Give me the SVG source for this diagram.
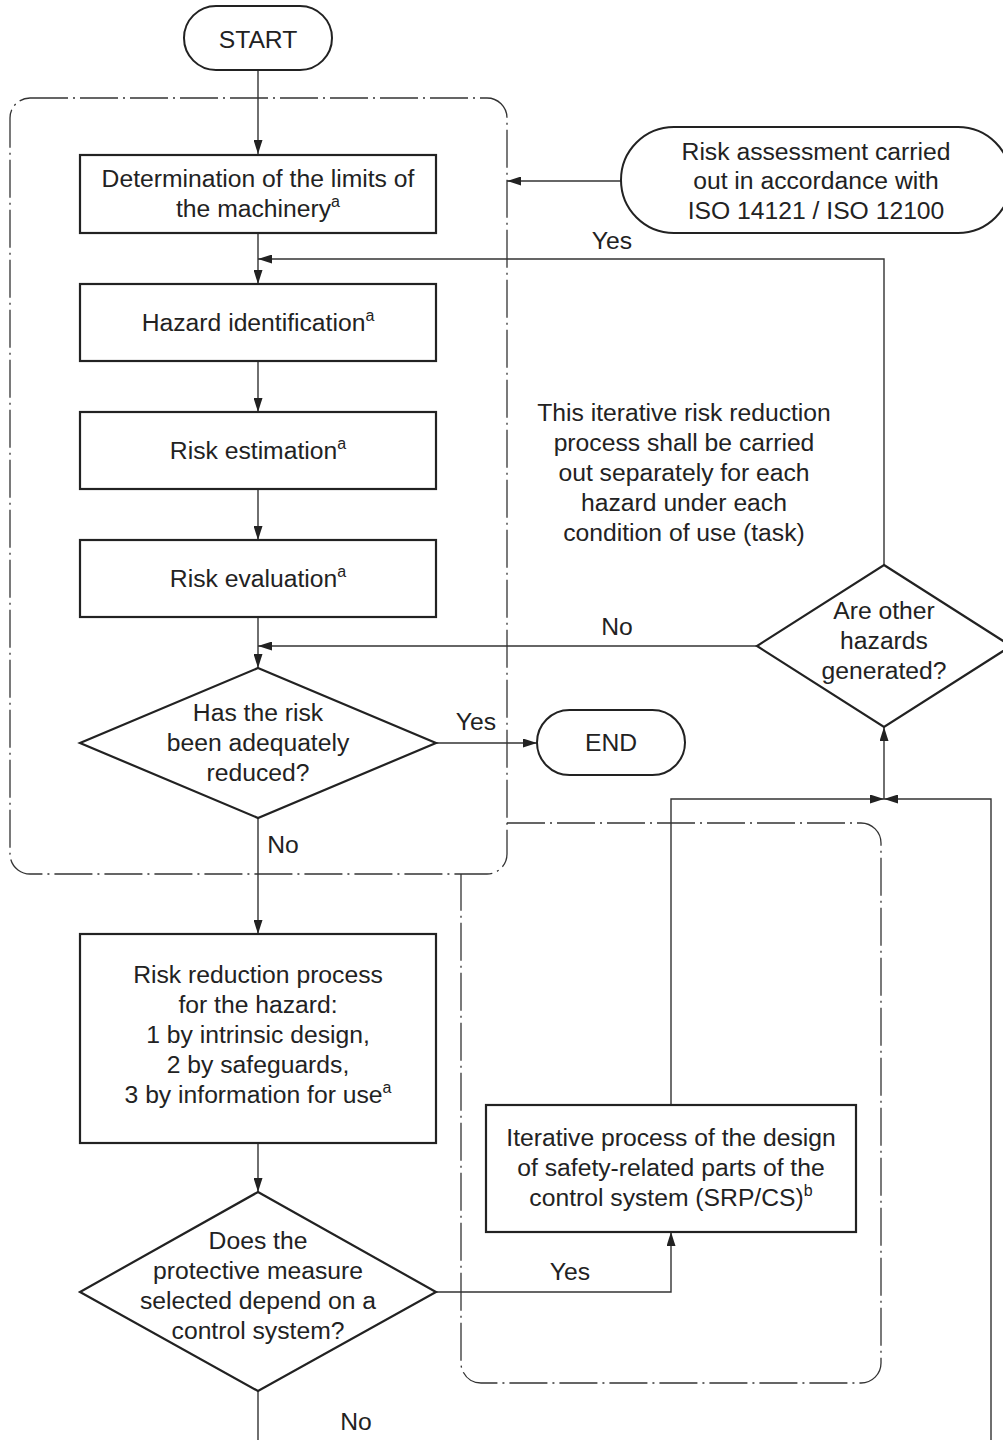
<svg xmlns="http://www.w3.org/2000/svg" width="1003" height="1440" viewBox="0 0 1003 1440">
<defs>
<marker id="arr" markerUnits="userSpaceOnUse" markerWidth="15" markerHeight="9" refX="14" refY="4.5" orient="auto">
<path d="M0,0 L14,4.5 L0,9 z" fill="#222"/>
</marker>
<style>
.t{font-family:"Liberation Sans",Arial,Helvetica,sans-serif;font-size:24.7px;fill:#222;text-anchor:middle}
.sup{font-size:16px}
.box{fill:#fff;stroke:#222;stroke-width:2.2}
.term{fill:#fff;stroke:#222;stroke-width:2}
.c{fill:none;stroke:#333;stroke-width:1.4}
.ca{fill:none;stroke:#333;stroke-width:1.4;marker-end:url(#arr)}
.zone{fill:none;stroke:#333;stroke-width:1.3;stroke-dasharray:38 5 2 5}
</style>
</defs>
<rect width="1003" height="1440" fill="#fff"/>

<g id="zones">
<rect class="zone" x="10" y="98" width="497" height="776" rx="20"/>
<path class="zone" d="M507,823 H861 A20,20 0 0 1 881,843 V1363 A20,20 0 0 1 861,1383 H481 A20,20 0 0 1 461,1363 V874"/>
</g>

<g id="connectors">
<line class="ca" x1="258" y1="70" x2="258" y2="154"/>
<line class="ca" x1="258" y1="233" x2="258" y2="284"/>
<line class="ca" x1="258" y1="361" x2="258" y2="412"/>
<line class="ca" x1="258" y1="489" x2="258" y2="540"/>
<line class="ca" x1="258" y1="617" x2="258" y2="668"/>
<line class="ca" x1="258" y1="818" x2="258" y2="934"/>
<line class="ca" x1="258" y1="1143" x2="258" y2="1192"/>
<line class="c" x1="258" y1="1391" x2="258" y2="1440"/>
<line class="ca" x1="621" y1="181" x2="507" y2="181"/>
<polyline class="ca" points="884,565 884,259 258,259"/>
<line class="ca" x1="757" y1="646" x2="258" y2="646"/>
<line class="ca" x1="436" y1="743" x2="537" y2="743"/>
<polyline class="ca" points="436,1292 671,1292 671,1232"/>
<polyline class="ca" points="671,1105 671,799 884,799"/>
<polyline class="ca" points="991,1440 991,799 884,799"/>
<line class="ca" x1="884" y1="799" x2="884" y2="727"/>
<text class="t" x="612" y="249">Yes</text>
<text class="t" x="617" y="635">No</text>
<text class="t" x="476" y="730">Yes</text>
<text class="t" x="283" y="853">No</text>
<text class="t" x="570" y="1280">Yes</text>
<text class="t" x="356" y="1430">No</text>
</g>

<g id="start">
<rect class="term" x="184" y="6" width="148" height="64" rx="32"/>
<text class="t" x="258" y="48">START</text>
</g>

<g id="limits">
<rect class="box" x="80" y="155" width="356" height="78"/>
<text class="t" x="258" y="187">Determination of the limits of</text>
<text class="t" x="258" y="217">the machinery<tspan class="sup" dy="-10">a</tspan></text>
</g>

<g id="hazard-id">
<rect class="box" x="80" y="284" width="356" height="77"/>
<text class="t" x="258" y="331">Hazard identification<tspan class="sup" dy="-10">a</tspan></text>
</g>

<g id="risk-est">
<rect class="box" x="80" y="412" width="356" height="77"/>
<text class="t" x="258" y="459">Risk estimation<tspan class="sup" dy="-10">a</tspan></text>
</g>

<g id="risk-eval">
<rect class="box" x="80" y="540" width="356" height="77"/>
<text class="t" x="258" y="587">Risk evaluation<tspan class="sup" dy="-10">a</tspan></text>
</g>

<g id="reduced">
<polygon class="box" points="258,668 436,743 258,818 80,743"/>
<text class="t" x="258" y="721">Has the risk</text>
<text class="t" x="258" y="751">been adequately</text>
<text class="t" x="258" y="781">reduced?</text>
</g>

<g id="end">
<rect class="term" x="537" y="710" width="148" height="65" rx="32.5"/>
<text class="t" x="611" y="751">END</text>
</g>

<g id="risk-reduction">
<rect class="box" x="80" y="934" width="356" height="209"/>
<text class="t" x="258" y="983">Risk reduction process</text>
<text class="t" x="258" y="1013">for the hazard:</text>
<text class="t" x="258" y="1043">1 by intrinsic design,</text>
<text class="t" x="258" y="1073">2 by safeguards,</text>
<text class="t" x="258" y="1103">3 by information for use<tspan class="sup" dy="-10">a</tspan></text>
</g>

<g id="control-q">
<polygon class="box" points="258,1192 436,1292 258,1391 80,1292"/>
<text class="t" x="258" y="1249">Does the</text>
<text class="t" x="258" y="1279">protective measure</text>
<text class="t" x="258" y="1309">selected depend on a</text>
<text class="t" x="258" y="1339">control system?</text>
</g>

<g id="srpcs">
<rect class="box" x="486" y="1105" width="370" height="127"/>
<text class="t" x="671" y="1146">Iterative process of the design</text>
<text class="t" x="671" y="1176">of safety-related parts of the</text>
<text class="t" x="671" y="1206">control system (SRP/CS)<tspan class="sup" dy="-10">b</tspan></text>
</g>

<g id="other-hazards">
<polygon class="box" points="884,565 1011,646 884,727 757,646"/>
<text class="t" x="884" y="619">Are other</text>
<text class="t" x="884" y="649">hazards</text>
<text class="t" x="884" y="679">generated?</text>
</g>

<g id="assessment">
<rect class="term" x="621" y="127" width="390" height="106" rx="53"/>
<text class="t" x="816" y="160">Risk assessment carried</text>
<text class="t" x="816" y="189">out in accordance with</text>
<text class="t" x="816" y="219">ISO 14121 / ISO 12100</text>
</g>

<g id="note">
<text class="t" x="684" y="421">This iterative risk reduction</text>
<text class="t" x="684" y="451">process shall be carried</text>
<text class="t" x="684" y="481">out separately for each</text>
<text class="t" x="684" y="511">hazard under each</text>
<text class="t" x="684" y="541">condition of use (task)</text>
</g>
</svg>
